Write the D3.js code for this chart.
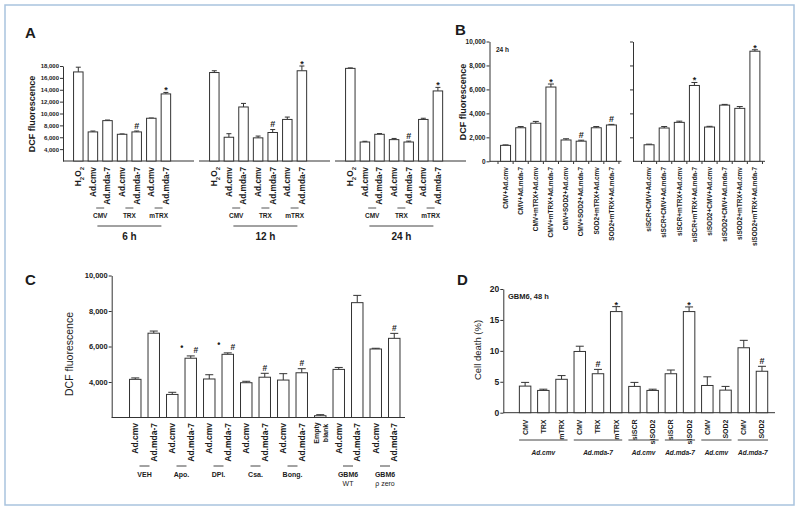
<!DOCTYPE html>
<html>
<head>
<meta charset="utf-8">
<script src="https://cdn.jsdelivr.net/npm/d3@7"></script>
<style>
body { margin: 0; background: #fff; }
text { font-family: "Liberation Sans", Arial, sans-serif; fill: #1b1b1b; }
</style>
</head>
<body>
<div class="viz"></div>
<script>
// ---- panel A : DCF, three time points ----
var aLabels = ["H2O2", "Ad.cmv", "Ad.mda-7", "Ad.cmv", "Ad.mda-7", "Ad.cmv", "Ad.mda-7"];
var aGroups = ["CMV", "TRX", "mTRX"];
var aTimes = ["6 h", "12 h", "24 h"];
var a6h = [17000, 6900, 8800, 6500, 6900, 9200, 13300];
var a6hErr = [800, 150, 100, 60, 150, 40, 250];
var a12h = [16900, 6000, 11100, 5900, 6800, 9000, 17200];
var a12hErr = [300, 600, 600, 300, 500, 400, 800];
var a24h = [17600, 5200, 6500, 5600, 5200, 9000, 13800];
var a24hErr = [80, 120, 120, 200, 150, 200, 600];
var aMarks = ["", "", "", "", "#", "", "*"];
var aTicks = [4000, 6000, 8000, 10000, 12000, 14000, 16000, 18000];

// ---- panel B : DCF 24 h ----
var bLeftLabels = ["CMV+Ad.cmv", "CMV+Ad.mda-7", "CMV+mTRX+Ad.cmv", "CMV+mTRX+Ad.mda-7",
  "CMV+SOD2+Ad.cmv", "CMV+SOD2+Ad.mda-7", "SOD2+mTRX+Ad.cmv", "SOD2+mTRX+Ad.mda-7"];
var bLeft = [1330, 2800, 3180, 6200, 1780, 1680, 2800, 3030];
var bLeftErr = [40, 100, 150, 250, 100, 80, 100, 50];
var bLeftMarks = ["", "", "", "*", "", "#", "", "#"];
var bRightLabels = ["siSCR+CMV+Ad.cmv", "siSCR+CMV+Ad.mda-7", "siSCR+mTRX+Ad.cmv", "siSCR+mTRX+Ad.mda-7",
  "siSOD2+CMV+Ad.cmv", "siSOD2+CMV+Ad.mda-7", "siSOD2+mTRX+Ad.cmv", "siSOD2+mTRX+Ad.mda-7"];
var bRight = [1380, 2780, 3250, 6330, 2860, 4690, 4420, 9190];
var bRightErr = [50, 120, 100, 250, 60, 60, 150, 120];
var bRightMarks = ["", "", "", "*", "", "", "", "*"];
var bTicks = [0, 2000, 4000, 6000, 8000, 10000];

// ---- panel C : DCF with inhibitors ----
var cLabels = ["Ad.cmv", "Ad.mda-7", "Ad.cmv", "Ad.mda-7", "Ad.cmv", "Ad.mda-7", "Ad.cmv", "Ad.mda-7",
  "Ad.cmv", "Ad.mda-7", "Empty|blank", "Ad.cmv", "Ad.mda-7", "Ad.cmv", "Ad.mda-7"];
var cValues = [4150, 6750, 3300, 5340, 4170, 5560, 3960, 4270, 4110, 4520, 2100, 4710, 8470, 5860, 6460];
var cErr = [80, 120, 120, 130, 240, 80, 80, 220, 360, 230, 60, 110, 410, 40, 280];
var cDot = [0, 0, 0, 1, 0, 1, 0, 0, 0, 0, 0, 0, 0, 0, 0];
var cHash = [0, 0, 0, 1, 0, 1, 0, 1, 0, 1, 0, 0, 0, 0, 1];
var cGroups = ["VEH", "Apo.", "DPI.", "Csa.", "Bong.", "GBM6|WT", "GBM6|\u03c1 zero"];
var cGroupStart = [0, 2, 4, 6, 8, 11, 13];
var cTicks = [4000, 6000, 8000, 10000];

// ---- panel D : cell death ----
var dLabels = ["CMV", "TRX", "mTRX", "CMV", "TRX", "mTRX", "siSCR", "siSOD2", "siSCR", "siSOD2",
  "CMV", "SOD2", "CMV", "SOD2"];
var dValues = [4.3, 3.6, 5.4, 9.9, 6.3, 16.35, 4.25, 3.6, 6.3, 16.35, 4.4, 3.65, 10.5, 6.7];
var dErr = [0.6, 0.2, 0.6, 0.85, 0.7, 0.8, 0.65, 0.2, 0.6, 0.75, 1.4, 0.6, 1.2, 0.8];
var dMarks = ["", "", "", "", "#", "*", "", "", "", "*", "", "", "", "#"];
var dGroups = ["Ad.cmv", "Ad.mda-7", "Ad.cmv", "Ad.mda-7", "Ad.cmv", "Ad.mda-7"];
var dGroupSizes = [3, 3, 2, 2, 2, 2];
var dTicks = [0, 5, 10, 15, 20];

var width = 800, height = 511;
var ink = "#333";

var svg = d3.select(".viz").append("svg")
    .attr("width", width)
    .attr("height", height);

svg.append("rect")
    .attr("x", 5).attr("y", 5)
    .attr("width", 789).attr("height", 500)
    .attr("fill", "none")
    .attr("stroke", "#a9c3de")
    .attr("stroke-width", 1.5);

function band(n, start, step, pad) {
    return d3.scaleBand()
        .domain(d3.range(n))
        .range([start, start + n * step])
        .paddingInner(pad)
        .paddingOuter(pad / 2);
}

function hline(g, x1, x2, y, color) {
    g.append("line")
        .attr("x1", x1).attr("x2", x2).attr("y1", y).attr("y2", y)
        .attr("stroke", color || ink).attr("stroke-width", 1);
}

function vlabel(g, cx, top, txt, size, weight) {
    return g.append("text")
        .attr("transform", "translate(" + cx + "," + top + ") rotate(-90)")
        .attr("text-anchor", "end")
        .attr("dy", "0.35em")
        .style("font-size", size + "px")
        .style("font-weight", weight || "bold")
        .text(txt);
}

function bars(g, x, y, values, errs, cap) {
    var base = y.range()[0];
    var bw = x.bandwidth();
    values.forEach(function (v, i) {
        var cx = x(i) + bw / 2, top = y(v), et = y(v + errs[i]);
        g.append("line")
            .attr("x1", cx).attr("x2", cx).attr("y1", top).attr("y2", et)
            .attr("stroke", ink).attr("stroke-width", 1);
        hline(g, cx - cap, cx + cap, et);
        g.append("rect")
            .attr("x", x(i)).attr("y", top)
            .attr("width", bw).attr("height", base - top)
            .attr("fill", "#fff")
            .attr("stroke", ink)
            .attr("stroke-width", 1);
    });
}

function mark(g, cx, et, m, size) {
    if (!m) return;
    g.append("text")
        .attr("x", cx)
        .attr("y", m == "*" ? et + 1 : et - 2.5)
        .attr("text-anchor", "middle")
        .style("font-size", size + "px")
        .style("font-weight", "bold")
        .text(m);
}

function yAxis(g, x, y, ticks, size, weight, labels) {
    var ax = d3.axisLeft(y)
        .tickValues(ticks)
        .tickSize(3)
        .tickSizeOuter(0)
        .tickFormat(labels ? d3.format(",") : "");
    var a = g.append("g").attr("transform", "translate(" + x + ",0)").call(ax);
    a.select(".domain").attr("stroke", ink);
    a.selectAll(".tick line").attr("stroke", ink);
    a.selectAll(".tick text")
        .attr("x", -4)
        .style("font-family", "'Liberation Sans', Arial, sans-serif")
        .style("font-size", size + "px")
        .style("font-weight", weight)
        .attr("fill", "#1b1b1b");
}

function ytitle(g, x, y, txt, size, weight) {
    g.append("text")
        .attr("transform", "translate(" + x + "," + y + ") rotate(-90)")
        .attr("text-anchor", "middle")
        .style("font-size", size + "px")
        .style("font-weight", weight)
        .text(txt);
}

function letter(g, x, y, t) {
    g.append("text").attr("x", x).attr("y", y)
        .style("font-size", "15px").style("font-weight", "bold").text(t);
}

// ================= A =================
var gA = svg.append("g");
letter(gA, 25, 38, "A");
var yA = d3.scaleLinear().domain([2000, 18000]).range([161, 66]);
yAxis(gA, 63, yA, aTicks, 6, "bold", true);
ytitle(gA, 35, 114, "DCF fluorescence", 9, "bold");

var aSeries = [[a6h, a6hErr], [a12h, a12hErr], [a24h, a24hErr]];
aSeries.forEach(function (s, p) {
    var left = 63 + p * 136;
    var x = band(7, left + 8, 14.6, 0.35);
    var bw = x.bandwidth();
    var c = function (i) { return x(i) + bw / 2; };
    hline(gA, left, left + 131, 161);
    bars(gA, x, yA, s[0], s[1], 2.5);
    s[0].forEach(function (v, i) { mark(gA, c(i), yA(v + s[1][i]), aMarks[i], 9); });

    aLabels.forEach(function (t, i) {
        if (t == "H2O2") {
            var h = vlabel(gA, c(i), 167, "", 8.3);
            h.append("tspan").text("H");
            h.append("tspan").attr("baseline-shift", "sub").style("font-size", "6px").text("2");
            h.append("tspan").text("O");
            h.append("tspan").attr("baseline-shift", "sub").style("font-size", "6px").text("2");
        } else {
            vlabel(gA, c(i), 167, t, 8.3);
        }
    });
    aGroups.forEach(function (gname, k) {
        var m = (c(1 + 2 * k) + c(2 + 2 * k)) / 2;
        hline(gA, m - 4, m + 4, 208, "#555");
        gA.append("text").attr("x", m).attr("y", 218)
            .attr("text-anchor", "middle")
            .style("font-size", "6.5px").style("font-weight", "bold").text(gname);
    });
    var mid = (c(1) + c(6)) / 2;
    hline(gA, mid - 32, mid + 32, 226, "#444");
    gA.append("text").attr("x", mid).attr("y", 240)
        .attr("text-anchor", "middle")
        .style("font-size", "10px").style("font-weight", "bold").text(aTimes[p]);
});

// ================= B =================
var gB = svg.append("g");
letter(gB, 455, 35, "B");
var yB = d3.scaleLinear().domain([0, 10000]).range([161.3, 41.5]);
yAxis(gB, 489.5, yB, bTicks, 6.5, "bold", true);
yAxis(gB, 633, yB, bTicks.slice(1), 6.5, "bold", false);
ytitle(gB, 466, 102, "DCF fluorescence", 9, "bold");
gB.append("text").attr("x", 496).attr("y", 52)
    .style("font-size", "6.5px").style("font-weight", "bold").text("24 h");

[[489.5, bLeft, bLeftErr, bLeftMarks, bLeftLabels], [633, bRight, bRightErr, bRightMarks, bRightLabels]]
    .forEach(function (s) {
        var ax = s[0];
        var x = band(8, ax + 8.5, 15.12, 0.34);
        var bw = x.bandwidth();
        hline(gB, ax, ax + 132, 161.3);
        d3.range(9).forEach(function (k) {
            var tx = ax + 8.5 + k * x.step();
            gB.append("line").attr("x1", tx).attr("x2", tx).attr("y1", 161.3).attr("y2", 164)
                .attr("stroke", ink).attr("stroke-width", 1);
        });
        bars(gB, x, yB, s[1], s[2], 3);
        s[1].forEach(function (v, i) {
            mark(gB, x(i) + bw / 2, yB(v + s[2][i]), s[3][i], 9);
            vlabel(gB, x(i) + bw / 2, 167, s[4][i], 6.5);
        });
    });

// ================= C =================
var gC = svg.append("g");
letter(gC, 25, 285, "C");
var yC = d3.scaleLinear().domain([2000, 10000]).range([417.5, 275.5]);
yAxis(gC, 111.7, yC, cTicks, 7.5, "bold", true);
ytitle(gC, 73, 354, "DCF fluorescence", 10.5, "normal");
var xC = band(15, 126, 18.5, 0.38);
var bwC = xC.bandwidth();
var cC = function (i) { return xC(i) + bwC / 2; };
hline(gC, 111.7, 405, 417.5);
bars(gC, xC, yC, cValues, cErr, 4);
cValues.forEach(function (v, i) {
    var et = yC(v + cErr[i]);
    if (cDot[i]) mark(gC, cC(i) - 9, et - 3, "\u2022", 9);
    if (cHash[i]) mark(gC, cC(i) + (cDot[i] ? 5 : 0), et, "#", 8.5);
    var t = cLabels[i].split("|");
    if (t.length == 1) {
        vlabel(gC, cC(i), 423, t[0], 8.5);
    } else {
        t.forEach(function (line, j) {
            vlabel(gC, cC(i) - 4 + j * 9, 433, line, 7).attr("text-anchor", "middle");
        });
    }
});
cGroups.forEach(function (gname, k) {
    var m = (cC(cGroupStart[k]) + cC(cGroupStart[k] + 1)) / 2;
    hline(gC, m - 5, m + 5, 466, "#444");
    gname.split("|").forEach(function (line, j) {
        gC.append("text").attr("x", m).attr("y", 476.5 + j * 9)
            .attr("text-anchor", "middle")
            .style("font-size", "7px").style("font-weight", j ? "normal" : "bold").text(line);
    });
});

// ================= D =================
var gD = svg.append("g");
letter(gD, 457, 285, "D");
var yD = d3.scaleLinear().domain([0, 20]).range([412.7, 289]);
yAxis(gD, 503.3, yD, dTicks, 8.5, "bold", true);
ytitle(gD, 481, 350, "Cell death (%)", 9.5, "normal");
gD.append("text").attr("x", 508).attr("y", 299)
    .style("font-size", "7.5px").style("font-weight", "bold").text("GBM6, 48 h");
var xD = band(14, 516, 18.22, 0.37);
var bwD = xD.bandwidth();
var cD = function (i) { return xD(i) + bwD / 2; };
hline(gD, 503.3, 775, 412.7);
bars(gD, xD, yD, dValues, dErr, 4);
dValues.forEach(function (v, i) {
    mark(gD, cD(i), yD(v + dErr[i]), dMarks[i], 9);
    vlabel(gD, cD(i), 419.5, dLabels[i], 7);
});
var start = 0;
dGroups.forEach(function (gname, k) {
    var first = start, last = start + dGroupSizes[k] - 1;
    var x1 = cD(first) - 6, x2 = cD(last) + 6;
    hline(gD, x1, x2, 440, "#444");
    gD.append("text").attr("x", (x1 + x2) / 2).attr("y", 455)
        .attr("text-anchor", "middle")
        .style("font-size", "6.5px").style("font-weight", "bold").style("font-style", "italic")
        .text(gname);
    start = last + 1;
});
</script>
</body>
</html>
